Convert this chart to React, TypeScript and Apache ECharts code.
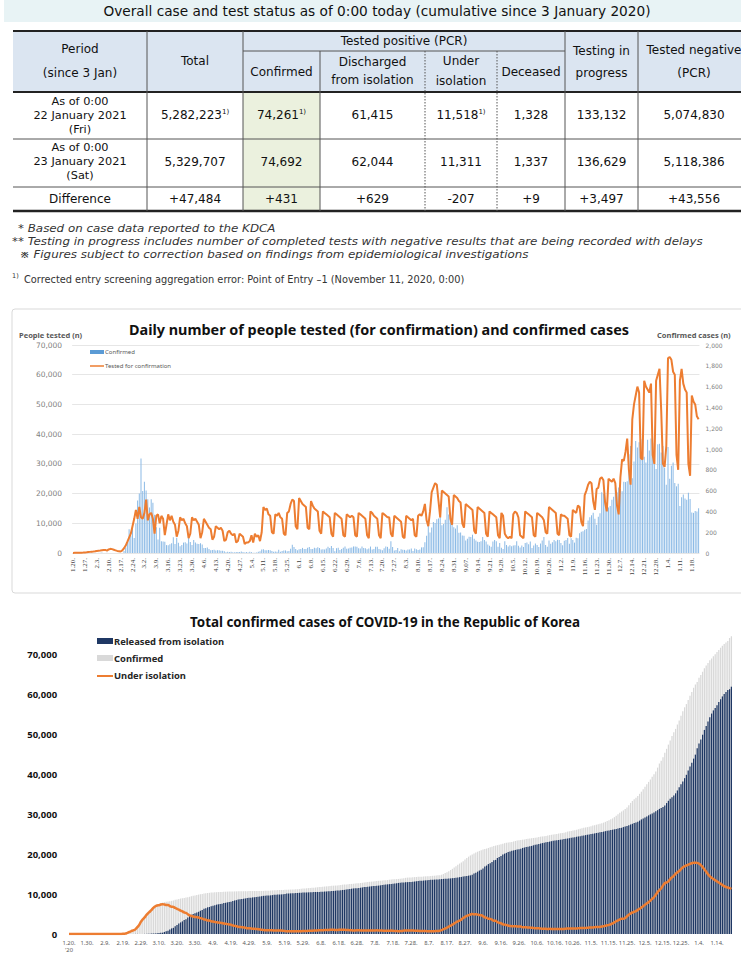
import React, { useEffect, useRef } from 'react';
import * as echarts from 'echarts';

// ---------------- Table data ----------------
const tableTitle = 'Overall case and test status as of 0:00 today (cumulative since 3 January 2020)';
const periodRow1 = ['As of 0:00', '22 January 2021', '(Fri)'];
const periodRow2 = ['As of 0:00', '23 January 2021', '(Sat)'];
const row1Values = ['5,282,223', '74,261', '61,415', '11,518', '1,328', '133,132', '5,074,830'];
const row1Notes = ['1)', '1)', '', '1)', '', '', ''];
const row2Values = ['5,329,707', '74,692', '62,044', '11,311', '1,337', '136,629', '5,118,386'];
const diffValues = ['+47,484', '+431', '+629', '-207', '+9', '+3,497', '+43,556'];
const footnotes = [
  '* Based on case data reported to the KDCA',
  '** Testing in progress includes number of completed tests with negative results that are being recorded with delays',
  ' \u203B Figures subject to correction based on findings from epidemiological investigations',
];
const correctionNote = 'Corrected entry screening aggregation error: Point of Entry \u20131 (November 11, 2020, 0:00)';

// ---------------- Chart 1: daily (20 Jan 2020 - 22 Jan 2021), one row per week Mon..Sun ----------------
const weeklyTicks = ['1.20.', '1.27.', '2.3.', '2.10.', '2.17.', '2.24.', '3.2.', '3.9.', '3.16.', '3.23.', '3.30.', '4.6.', '4.13.', '4.20.', '4.27.', '5.4.', '5.11.', '5.18.', '5.25.', '6.1.', '6.8.', '6.15.', '6.22.', '6.29.', '7.6.', '7.13.', '7.20.', '7.27.', '8.3.', '8.10.', '8.17.', '8.24.', '8.31.', '9.07.', '9.14.', '9.21.', '9.28.', '10.5.', '10.12.', '10.19.', '10.26.', '11.2.', '11.9.', '11.16.', '11.23.', '11.30.', '12.7.', '12.14.', '12.21.', '12.28.', '1.4.', '1.11.', '1.18.'];

const dailyTests = [
  30, 50, 60, 90, 110, 120, 140,
  180, 240, 310, 380, 460, 520, 600,
  700, 760, 820, 900, 980, 1050, 800,
  1200, 1400, 1300, 1100, 900, 700, 600,
  500, 900, 1600, 2500, 3800, 5200, 6500,
  9000, 11500, 14500, 11500, 15500, 12000, 11500,
  13500, 18000, 11000, 13000, 13500, 11500, 6500,
  12500, 13000, 10000, 12500, 11500, 6000, 9500,
  13000, 11000, 12500, 10500, 9500, 5500, 7500,
  12000, 11000, 11500, 10000, 9000, 5000, 6500,
  12000, 11000, 11500, 10500, 9500, 5000, 7000,
  11500, 10500, 9500, 8500, 8000, 4500, 5500,
  9000, 8500, 8000, 8500, 7500, 4000, 4500,
  7000, 7500, 6500, 6000, 6500, 3500, 4000,
  6500, 6000, 5500, 3000, 3500, 3500, 4000,
  6000, 3500, 6500, 5500, 6000, 4000, 7000,
  15500, 14500, 15000, 13000, 12500, 7000, 6500,
  13000, 12500, 13500, 12000, 11500, 6500, 6000,
  13500, 14000, 16500, 18000, 17500, 9000, 8000,
  18500, 17500, 16500, 16000, 15500, 8500, 8000,
  17500, 16000, 15000, 14500, 14000, 7500, 6500,
  14000, 13500, 13000, 12500, 12000, 6500, 5500,
  13500, 13000, 12500, 12000, 11500, 6000, 5500,
  13000, 12500, 12000, 12500, 12000, 6000, 5500,
  13500, 13000, 12500, 12000, 11500, 6000, 5000,
  14000, 13500, 12500, 12000, 11500, 6000, 5000,
  13500, 13000, 12500, 12000, 12000, 6500, 5500,
  12500, 12000, 11500, 11000, 10500, 5500, 5000,
  12500, 12000, 11500, 11000, 11500, 6000, 5500,
  12500, 13000, 12500, 14000, 16500, 11000, 9000,
  14000, 20500, 22000, 23500, 23000, 17500, 12000,
  21000, 20500, 20000, 19500, 19000, 11500, 9500,
  19500, 19000, 18500, 17500, 17000, 10000, 8500,
  16500, 16000, 15500, 15000, 14500, 7500, 6500,
  15500, 15000, 14500, 14000, 13500, 6500, 5500,
  14000, 13500, 13000, 12500, 12000, 6000, 5000,
  13500, 12500, 6500, 5500, 5000, 5500, 5000,
  13000, 14000, 13500, 12000, 6000, 5500, 5000,
  14000, 13500, 13000, 12500, 12000, 6000, 5500,
  13500, 13000, 12500, 12000, 11000, 7000, 6500,
  15500, 15000, 14500, 14000, 13500, 6500, 6000,
  13000, 12500, 12500, 12000, 11500, 6000, 5500,
  14500, 14000, 13500, 16000, 15500, 10500, 9000,
  19500, 21000, 23000, 24000, 23500, 17500, 14500,
  21500, 22000, 25000, 25500, 24500, 17000, 14000,
  25000, 24500, 24000, 25000, 23500, 16000, 13000,
  25500, 31500, 31000, 34000, 38500, 28000, 23000,
  45000, 50000, 53000, 56000, 54000, 32000, 31500,
  58000, 56000, 55000, 54000, 57000, 33000, 30000,
  58000, 60000, 62000, 48000, 30000, 29000, 36000,
  65500, 66000, 65000, 61000, 60000, 33000, 28000,
  58000, 62000, 57000, 55000, 54000, 30000, 26000,
  53000, 51000, 50000, 46000, 45000,
];

const dailyConfirmed = [
  1, 0, 0, 0, 1, 0, 1,
  1, 0, 0, 2, 5, 1, 3,
  0, 1, 3, 4, 1, 0, 3,
  0, 1, 0, 0, 0, 0, 1,
  1, 1, 20, 53, 100, 229, 169,
  231, 144, 284, 505, 571, 909, 595,
  686, 600, 516, 438, 518, 483, 367,
  248, 131, 242, 114, 110, 107, 76,
  74, 84, 93, 152, 87, 147, 98,
  64, 76, 100, 104, 91, 146, 105,
  78, 125, 101, 89, 86, 94, 81,
  47, 47, 53, 39, 27, 30, 32,
  25, 27, 27, 22, 22, 18, 8,
  13, 9, 11, 8, 6, 10, 10,
  10, 14, 9, 4, 9, 6, 13,
  8, 3, 2, 4, 12, 18, 34,
  35, 27, 26, 29, 27, 19, 13,
  15, 13, 32, 12, 20, 23, 25,
  16, 19, 40, 79, 58, 39, 27,
  35, 38, 49, 39, 39, 51, 57,
  38, 38, 50, 45, 56, 48, 34,
  36, 34, 43, 59, 49, 67, 48,
  17, 46, 51, 28, 39, 51, 62,
  42, 43, 50, 54, 63, 63, 61,
  46, 44, 63, 49, 45, 35, 44,
  62, 33, 39, 61, 60, 39, 34,
  26, 45, 63, 59, 41, 113, 58,
  25, 28, 48, 18, 36, 31, 30,
  23, 34, 33, 43, 20, 43, 36,
  28, 34, 54, 56, 103, 166, 279,
  197, 246, 297, 288, 324, 332, 397,
  266, 280, 320, 441, 371, 323, 299,
  248, 235, 267, 195, 198, 168, 167,
  119, 136, 156, 155, 176, 136, 121,
  109, 106, 113, 153, 126, 110, 82,
  70, 61, 110, 125, 114, 61, 95,
  50, 38, 113, 77, 63, 75, 64,
  73, 75, 114, 69, 54, 72, 58,
  97, 102, 84, 110, 47, 73, 91,
  76, 58, 91, 121, 155, 77, 61,
  119, 88, 103, 125, 114, 127, 124,
  97, 75, 118, 125, 145, 89, 143,
  126, 100, 146, 143, 191, 205, 208,
  223, 230, 313, 343, 363, 386, 330,
  271, 349, 382, 583, 569, 504, 450,
  438, 451, 511, 540, 629, 583, 631,
  615, 594, 686, 682, 689, 950, 1030,
  718, 880, 1078, 1014, 1064, 1097, 1097,
  926, 869, 1090, 985, 1100, 1060, 970,
  807, 1045, 1050, 967, 1029, 820, 657,
  1020, 715, 840, 869, 674, 641, 665,
  451, 537, 562, 524, 513, 580, 520,
  389, 386, 404, 400, 431,
];

// ---------------- Chart 2: cumulative ----------------
const tenDayTicks = ["1.20.\n'20", '1.30.', '2.9.', '2.19.', '2.29.', '3.10.', '3.20.', '3.30.', '4.9.', '4.19.', '4.29.', '5.9.', '5.19.', '5.29.', '6.8.', '6.18.', '6.28.', '7.8.', '7.18.', '7.28.', '8.7.', '8.17.', '8.27.', '9.6.', '9.16.', '9.26.', '10.6.', '10.16.', '10.26.', '11.5.', '11.15.', '11.25.', '12.5.', '12.15.', '12.25.', '1.4.', '1.14.'];

const cumConfirmed = [
  1, 1, 1, 1, 2, 2, 3,
  4, 4, 4, 6, 11, 12, 15,
  15, 16, 19, 23, 24, 24, 27,
  27, 28, 28, 28, 28, 28, 29,
  30, 31, 51, 104, 204, 433, 602,
  833, 977, 1261, 1766, 2337, 3150, 3736,
  4212, 4812, 5328, 5766, 6284, 6767, 7134,
  7382, 7513, 7755, 7869, 7979, 8086, 8162,
  8236, 8320, 8413, 8565, 8652, 8799, 8897,
  8961, 9037, 9137, 9241, 9332, 9478, 9583,
  9661, 9786, 9887, 9976, 10062, 10156, 10237,
  10284, 10331, 10384, 10423, 10450, 10480, 10512,
  10537, 10564, 10591, 10613, 10635, 10653, 10661,
  10674, 10683, 10694, 10702, 10708, 10718, 10728,
  10738, 10752, 10761, 10765, 10774, 10780, 10793,
  10801, 10804, 10806, 10810, 10822, 10840, 10874,
  10909, 10936, 10962, 10991, 11018, 11037, 11050,
  11065, 11078, 11110, 11122, 11142, 11165, 11190,
  11206, 11225, 11265, 11344, 11402, 11441, 11468,
  11503, 11541, 11590, 11629, 11668, 11719, 11776,
  11814, 11852, 11902, 11947, 12003, 12051, 12085,
  12121, 12155, 12198, 12257, 12306, 12373, 12421,
  12438, 12484, 12535, 12563, 12602, 12653, 12715,
  12757, 12800, 12850, 12904, 12967, 13030, 13091,
  13137, 13181, 13244, 13293, 13338, 13373, 13417,
  13479, 13512, 13551, 13612, 13672, 13711, 13745,
  13771, 13816, 13879, 13938, 13979, 14092, 14150,
  14175, 14203, 14251, 14269, 14305, 14336, 14366,
  14389, 14423, 14456, 14499, 14519, 14562, 14598,
  14626, 14660, 14714, 14770, 14873, 15039, 15318,
  15515, 15761, 16058, 16346, 16670, 17002, 17399,
  17665, 17945, 18265, 18706, 19077, 19400, 19699,
  19947, 20182, 20449, 20644, 20842, 21010, 21177,
  21296, 21432, 21588, 21743, 21919, 22055, 22176,
  22285, 22391, 22504, 22657, 22783, 22893, 22975,
  23045, 23106, 23216, 23341, 23455, 23516, 23611,
  23661, 23699, 23812, 23889, 23952, 24027, 24091,
  24164, 24239, 24353, 24422, 24476, 24548, 24606,
  24703, 24805, 24889, 24988, 25035, 25108, 25199,
  25275, 25333, 25424, 25543, 25698, 25775, 25836,
  25955, 26043, 26146, 26271, 26385, 26511, 26635,
  26732, 26807, 26925, 27050, 27195, 27284, 27427,
  27553, 27653, 27799, 27942, 28133, 28338, 28546,
  28769, 28998, 29311, 29654, 30017, 30403, 30733,
  31004, 31353, 31735, 32318, 32887, 33375, 33824,
  34201, 34652, 35163, 35703, 36332, 36915, 37546,
  38161, 38755, 39432, 40098, 40786, 41736, 42766,
  43484, 44364, 45442, 46453, 47515, 48570, 49665,
  50591, 51460, 52550, 53533, 54770, 55902, 56872,
  57680, 58725, 59773, 60740, 61769, 62593, 63244,
  64264, 64979, 65818, 66686, 67358, 68017, 68664,
  69114, 69651, 70212, 70728, 71241, 71820, 72340,
  72729, 73115, 73518, 74261, 74692,
];

const cumReleased = [
  0, 0, 0, 0, 0, 0, 0,
  0, 0, 0, 0, 0, 0, 0,
  0, 0, 1, 1, 1, 1, 3,
  3, 4, 7, 7, 7, 9, 10,
  10, 12, 16, 16, 16, 16, 18,
  18, 22, 22, 24, 24, 28, 30,
  30, 34, 41, 88, 108, 118, 130,
  166, 247, 288, 333, 510, 714, 834,
  1137, 1401, 1540, 1947, 2233, 2612, 2909,
  3166, 3507, 3730, 4144, 4528, 4811, 5033,
  5228, 5408, 5567, 5828, 6021, 6325, 6463,
  6694, 6776, 6973, 7117, 7243, 7368, 7447,
  7534, 7616, 7757, 7829, 7937, 8042, 8114,
  8277, 8411, 8501, 8635, 8717, 8764, 8854,
  8922, 9059, 9072, 9123, 9183, 9217, 9283,
  9332, 9419, 9484, 9568, 9610, 9632, 9670,
  9695, 9762, 9821, 9851, 9888, 9904, 9938,
  9970, 10066, 10135, 10162, 10194, 10213, 10226,
  10275, 10295, 10340, 10363, 10398, 10405, 10422,
  10446, 10467, 10499, 10506, 10531, 10552, 10564,
  10589, 10611, 10654, 10669, 10718, 10728, 10760,
  10804, 10856, 10900, 10930, 10970, 11048, 11075,
  11172, 11209, 11317, 11364, 11429, 11470, 11491,
  11537, 11613, 11684, 11772, 11811, 11848, 11914,
  11970, 12019, 12066, 12096, 12144, 12204, 12282,
  12348, 12396, 12461, 12506, 12537, 12610, 12698,
  12729, 12812, 12866, 12904, 12931, 12993, 13007,
  13043, 13063, 13117, 13166, 13233, 13280, 13352,
  13364, 13411, 13457, 13499, 13543, 13584, 13607,
  13642, 13666, 13702, 13745, 13786, 13817, 13834,
  13863, 13901, 13948, 14006, 14063, 14132, 14200,
  14265, 14315, 14406, 14461, 14538, 14650, 14710,
  14840, 15198, 15356, 15642, 15912, 16146, 16462,
  16912, 17166, 17545, 17759, 18084, 18484, 18590,
  19074, 19317, 19596, 19970, 20158, 20347, 20552,
  20722, 20855, 20970, 21090, 21216, 21292, 21390,
  21590, 21700, 21811, 21917, 22010, 22093, 22252,
  22385, 22484, 22579, 22690, 22812, 22890, 22992,
  23105, 23176, 23281, 23371, 23459, 23530, 23588,
  23664, 23722, 23812, 23880, 23960, 24040, 24130,
  24226, 24295, 24395, 24470, 24550, 24647, 24730,
  24810, 24910, 24970, 25075, 25160, 25235, 25340,
  25428, 25530, 25600, 25688, 25800, 25882, 25985,
  26070, 26170, 26260, 26325, 26466, 26572, 26650,
  26825, 26950, 27103, 27295, 27478, 27640, 27830,
  27981, 28180, 28440, 28750, 28990, 29240, 29500,
  29770, 30010, 30250, 30500, 30800, 31070, 31390,
  31580, 31870, 32250, 32850, 33420, 33930, 34330,
  34750, 35300, 36010, 36790, 37550, 38250, 39100,
  39940, 41000, 42000, 42950, 44000, 45000, 46600,
  47800, 48800, 50000, 51200, 52200, 53300, 54370,
  55300, 56100, 56700, 57400, 58210, 58900, 59600,
  60200, 60700, 61200, 61415, 62044,
];

const underIsolation = [
  1, 1, 1, 1, 2, 2, 3,
  4, 4, 4, 6, 11, 12, 15,
  15, 16, 18, 22, 23, 23, 24,
  24, 24, 21, 21, 21, 19, 19,
  20, 19, 35, 87, 187, 415, 582,
  808, 945, 1227, 1729, 2300, 3105, 3689,
  4159, 4750, 5255, 5643, 6134, 6605, 6954,
  7165, 7212, 7407, 7470, 7402, 7300, 7253,
  7024, 6838, 6789, 6527, 6325, 6085, 5884,
  5684, 5410, 5281, 4966, 4665, 4523, 4398,
  4275, 4216, 4155, 3979, 3867, 3654, 3591,
  3408, 3370, 3215, 3125, 3026, 2930, 2873,
  2808, 2750, 2627, 2576, 2484, 2385, 2324,
  2160, 2033, 1951, 1826, 1750, 1712, 1632,
  1572, 1447, 1442, 1392, 1340, 1310, 1255,
  1213, 1130, 1067, 988, 957, 953, 949,
  959, 918, 885, 882, 871, 874, 852,
  834, 751, 714, 699, 686, 690, 701,
  667, 666, 661, 717, 738, 769, 776,
  785, 802, 818, 850, 863, 893, 938,
  951, 967, 974, 1003, 1006, 1044, 1046,
  1037, 1018, 1016, 1045, 1055, 1043, 1064,
  984, 993, 936, 917, 891, 901, 942,
  938, 905, 883, 849, 873, 899, 892,
  882, 877, 892, 911, 907, 882, 848,
  844, 829, 803, 818, 847, 812, 758,
  753, 715, 724, 745, 868, 863, 874,
  866, 894, 858, 845, 802, 785, 735,
  758, 743, 740, 718, 717, 712, 717,
  716, 746, 766, 825, 950, 1197, 1377,
  1594, 1852, 2093, 2355, 2631, 2957, 3153,
  3371, 3635, 3985, 4299, 4541, 4721, 4903,
  5010, 4916, 4953, 4862, 4758, 4689, 4491,
  4176, 4063, 3844, 3796, 3610, 3330, 3330,
  2951, 2816, 2690, 2439, 2358, 2254, 2115,
  2004, 1951, 1950, 1939, 1905, 1908, 1862,
  1700, 1700, 1677, 1634, 1600, 1594, 1505,
  1445, 1460, 1430, 1368, 1316, 1300, 1293,
  1276, 1290, 1279, 1240, 1225, 1239, 1257,
  1235, 1267, 1282, 1340, 1387, 1369, 1364,
  1356, 1385, 1409, 1447, 1492, 1527, 1534,
  1527, 1548, 1611, 1646, 1650, 1711, 1734,
  1742, 1787, 1859, 1964, 2054, 2179, 2297,
  2441, 2652, 2904, 3201, 3444, 3640, 3832,
  3827, 4029, 4443, 4830, 5130, 5396, 5549,
  5748, 6057, 6333, 6650, 6980, 7355, 7690,
  7990, 8390, 8800, 9230, 9850, 10520, 11010,
  11490, 12150, 12730, 12940, 13220, 13780, 14190,
  14600, 15100, 15500, 15800, 16300, 16700, 17000,
  17200, 17400, 17600, 17750, 17850, 17900, 17850,
  17650, 17300, 16800, 16200, 15600, 15000, 14500,
  14100, 13800, 13500, 13200, 12900, 12600, 12300,
  12000, 11800, 11650, 11518, 11311,
];

// daily category keys (calendar days)
const dayKeys: string[] = dailyTests.map((_, i) => {
  const d = new Date(2020, 0, 20 + i);
  return `${d.getFullYear()}-${d.getMonth() + 1}-${d.getDate()}`;
});

// ---------------- helpers ----------------
const FONT = 'Noto Sans';
const TFONT = 'DejaVu Sans';
function txt(x: number, y: number, text: string, o: any = {}) {
  return {
    type: 'text', x, y, silent: true, z: 50,
    scaleX: o.scaleX ?? 1,
    style: {
      text,
      fill: o.fill ?? '#111',
      fontSize: o.size ?? 12,
      fontFamily: o.family ?? TFONT,
      fontWeight: o.weight ?? 'normal',
      fontStyle: o.italic ? 'italic' : 'normal',
      align: o.align ?? 'center',
      verticalAlign: 'middle',
      lineHeight: o.lh,
      rich: o.rich,
    },
  };
}
function hline(x1: number, x2: number, y: number, w: number, color = '#333', dash?: number[]) {
  return { type: 'line', silent: true, z: 40, shape: { x1, y1: y, x2, y2: y }, style: { stroke: color, lineWidth: w, lineDash: dash } };
}
function vline(x: number, y1: number, y2: number, dash?: number[]) {
  return { type: 'line', silent: true, z: 40, shape: { x1: x, y1, x2: x, y2 }, style: { stroke: '#555', lineWidth: 1, lineDash: dash } };
}

function buildGraphics() {
  const g: any[] = [];
  const colX = [13, 147, 243, 320, 425, 497, 565, 638, 750];
  const mid = (i: number) => (colX[i] + colX[i + 1]) / 2;
  // title bar
  g.push({ type: 'rect', silent: true, shape: { x: 4, y: 0, width: 737, height: 22 }, style: { fill: '#e8f3f5' } });
  g.push(txt(377, 11, tableTitle, { size: 13.7, fill: '#111' }));
  // backgrounds
  g.push({ type: 'rect', silent: true, shape: { x: 13, y: 31, width: 737, height: 61 }, style: { fill: '#dbe5f1' } });
  g.push({ type: 'rect', silent: true, shape: { x: 243, y: 92, width: 77, height: 119 }, style: { fill: '#ebf1de' } });
  // lines
  g.push(hline(13, 741, 31, 2, '#222'));
  g.push(hline(13, 741, 92, 2, '#222'));
  g.push(hline(13, 741, 139, 1, '#555'));
  g.push(hline(13, 741, 187, 1, '#555'));
  g.push(hline(13, 741, 211, 2.5, '#222'));
  g.push(hline(243, 565, 51, 1, '#555'));
  g.push(vline(147, 31, 211));
  g.push(vline(243, 31, 211));
  g.push(vline(320, 51, 211));
  g.push(vline(425, 51, 211, [1.5, 1.5]));
  g.push(vline(497, 51, 211, [1.5, 1.5]));
  g.push(vline(565, 31, 211));
  g.push(vline(638, 31, 211));
  // header
  g.push(txt(mid(0), 61, 'Period\n(since 3 Jan)', { lh: 24 }));
  g.push(txt(mid(1), 61, 'Total'));
  g.push(txt((colX[2] + colX[6]) / 2, 41, 'Tested positive (PCR)'));
  g.push(txt(mid(2), 72, 'Confirmed'));
  g.push(txt(mid(3), 71, 'Discharged\nfrom isolation', { lh: 18 }));
  g.push(txt(mid(4), 71, 'Under\nisolation', { lh: 20 }));
  g.push(txt(mid(5), 72, 'Deceased'));
  g.push(txt(mid(6), 62, 'Testing in\nprogress', { lh: 22 }));
  g.push(txt(mid(7), 61.5, 'Tested negative\n(PCR)', { lh: 23 }));
  // body
  g.push(txt(mid(0), 115, periodRow1.join('\n'), { lh: 14, size: 11.3 }));
  g.push(txt(mid(0), 161, periodRow2.join('\n'), { lh: 14, size: 11.3 }));
  g.push(txt(mid(0), 199, 'Difference'));
  const rich = {
    v: { fontSize: 12, fontFamily: TFONT, lineHeight: 14, fill: '#111' },
    s: { fontSize: 7, fontFamily: TFONT, lineHeight: 9, verticalAlign: 'top', fill: '#111' },
  };
  row1Values.forEach((v, i) => {
    const note = row1Notes[i];
    g.push(txt(mid(i + 1), 115, note ? `{v|${v}}{s|${note}}` : `{v|${v}}`, { rich }));
  });
  row2Values.forEach((v, i) => g.push(txt(mid(i + 1), 162, v)));
  diffValues.forEach((v, i) => g.push(txt(mid(i + 1), 199, v)));
  // footnotes
  g.push(txt(18, 228, footnotes[0], { size: 10.8, italic: true, align: 'left', fill: '#333', scaleX: 1.1 }));
  g.push(txt(12, 241, footnotes[1], { size: 10.8, italic: true, align: 'left', fill: '#333', scaleX: 1.1 }));
  g.push(txt(16, 254, footnotes[2], { size: 10.8, italic: true, align: 'left', fill: '#333', scaleX: 1.1 }));
  g.push(txt(12, 276, '1)', { size: 6.5, align: 'left', fill: '#333' }));
  g.push(txt(24, 279, correctionNote, { size: 9.8, align: 'left', fill: '#333' }));

  // chart 1 frame, titles, legend
  g.push({ type: 'rect', silent: true, z: 1, shape: { x: 12, y: 309, width: 740, height: 284, r: 3 }, style: { fill: 'none', stroke: '#d9d9d9', lineWidth: 1 } });
  g.push(txt(379, 329, 'Daily number of people tested (for confirmation) and confirmed cases', { size: 14.4, weight: 'bold', fill: '#111', family: FONT }));
  g.push(txt(19, 335, 'People tested (n)', { size: 7.5, weight: 'bold', fill: '#595959', align: 'left', family: FONT }));
  g.push(txt(657, 335, 'Confirmed cases (n)', { size: 7.5, weight: 'bold', fill: '#595959', align: 'left', family: FONT }));
  g.push({ type: 'rect', silent: true, z: 50, shape: { x: 90, y: 350, width: 14, height: 4 }, style: { fill: '#5b9bd5' } });
  g.push(txt(105, 352, 'Confirmed', { size: 6, fill: '#595959', align: 'left', family: FONT }));
  g.push({ type: 'line', silent: true, z: 50, shape: { x1: 90, y1: 366, x2: 104, y2: 366 }, style: { stroke: '#ed7d31', lineWidth: 1.5 } });
  g.push(txt(105, 366, 'Tested for confirmation', { size: 6, fill: '#595959', align: 'left', family: FONT }));

  // chart 2 title & legend
  g.push(txt(385, 622, 'Total confirmed cases of COVID-19 in the Republic of Korea', { size: 13.4, weight: 'bold', fill: '#111', family: FONT }));
  g.push({ type: 'rect', silent: true, z: 50, shape: { x: 97, y: 638, width: 16, height: 6 }, style: { fill: '#1f3864' } });
  g.push(txt(114, 641, 'Released from isolation', { size: 9.4, weight: 'bold', fill: '#262626', align: 'left', family: FONT }));
  g.push({ type: 'rect', silent: true, z: 50, shape: { x: 97, y: 655, width: 16, height: 6 }, style: { fill: '#d9d9d9' } });
  g.push(txt(114, 658, 'Confirmed', { size: 9.4, weight: 'bold', fill: '#262626', align: 'left', family: FONT }));
  g.push({ type: 'line', silent: true, z: 50, shape: { x1: 97, y1: 676, x2: 113, y2: 676 }, style: { stroke: '#ed7d31', lineWidth: 2 } });
  g.push(txt(114, 675, 'Under isolation', { size: 9.4, weight: 'bold', fill: '#262626', align: 'left', family: FONT }));
  return g;
}

const fmt = (v: number) => v.toLocaleString('en-US');

function buildOption() {
  return {
    animation: false,
    backgroundColor: '#ffffff',
    textStyle: { fontFamily: FONT },
    graphic: { elements: buildGraphics() },
    grid: [
      { left: 72.15, width: 627.3, top: 345, height: 208, outerBoundsMode: 'none' },
      { left: 68.1, width: 664.2, top: 635.05, height: 298.95, outerBoundsMode: 'none' },
    ],
    xAxis: [
      {
        type: 'category', gridIndex: 0, data: dayKeys, boundaryGap: true,
        axisLine: { show: false }, axisTick: { show: false },
        axisLabel: {
          interval: 6, rotate: 90, margin: 5, fontSize: 7, fontFamily: 'Liberation Serif', color: '#404040',
          formatter: (_v: string, i: number) => (i % 7 === 0 ? weeklyTicks[i / 7] ?? '' : ''),
        },
      },
      {
        type: 'category', gridIndex: 1, data: dayKeys, boundaryGap: true,
        axisLine: { show: false }, axisTick: { show: false },
        axisLabel: {
          interval: 9, margin: 5, fontSize: 5.8, lineHeight: 7.5, color: '#595959',
          formatter: (_v: string, i: number) => (i % 10 === 0 ? tenDayTicks[i / 10] ?? '' : ''),
        },
      },
    ],
    yAxis: [
      {
        type: 'value', gridIndex: 0, min: 0, max: 70000, interval: 10000, position: 'left',
        axisLine: { show: false }, axisTick: { show: false },
        splitLine: { show: true, lineStyle: { color: '#e6e6e6', width: 1 } },
        axisLabel: { margin: 10, fontSize: 7.5, fontFamily: 'DejaVu Sans', color: '#7f7f7f', formatter: fmt },
      },
      {
        type: 'value', gridIndex: 0, min: 0, max: 2000, interval: 200, position: 'right',
        axisLine: { show: false }, axisTick: { show: false }, splitLine: { show: false },
        axisLabel: { margin: 6, fontSize: 6, fontFamily: 'DejaVu Sans', color: '#7f7f7f', formatter: fmt },
      },
      {
        type: 'value', gridIndex: 1, min: 0, max: 75000, interval: 10000,
        axisLine: { show: false }, axisTick: { show: false }, splitLine: { show: false },
        axisLabel: {
          margin: 11, fontSize: 9.5, fontWeight: 'bold', color: '#111', showMaxLabel: false,
          formatter: (v: number) => (v % 10000 === 0 ? fmt(v) : ''),
        },
      },
    ],
    series: [
      {
        name: 'Confirmed', type: 'bar', xAxisIndex: 0, yAxisIndex: 1, data: dailyConfirmed,
        barWidth: '60%', itemStyle: { color: '#8dbbe6' }, z: 2,
      },
      {
        name: 'Tested for confirmation', type: 'line', xAxisIndex: 0, yAxisIndex: 0, data: dailyTests,
        symbol: 'none', lineStyle: { color: '#ed7d31', width: 2 }, itemStyle: { color: '#ed7d31' }, z: 3,
      },
      {
        name: 'Confirmed (cumulative)', type: 'bar', xAxisIndex: 1, yAxisIndex: 2, data: cumConfirmed,
        barWidth: '70%', barGap: '-100%', itemStyle: { color: '#d9d9d9' }, z: 2,
      },
      {
        name: 'Released from isolation', type: 'bar', xAxisIndex: 1, yAxisIndex: 2, data: cumReleased,
        barWidth: '70%', barGap: '-100%', itemStyle: { color: '#1f3864' }, z: 2,
      },
      {
        name: 'Under isolation', type: 'line', xAxisIndex: 1, yAxisIndex: 2, data: underIsolation,
        smooth: true, symbol: 'none', lineStyle: { color: '#ed7d31', width: 2.5 }, itemStyle: { color: '#ed7d31' }, z: 3,
      },
    ],
  };
}

export default function App() {
  const ref = useRef<HTMLDivElement>(null);
  useEffect(() => {
    if (!ref.current) return;
    const chart = echarts.init(ref.current, null, { renderer: 'svg', width: 741, height: 966 });
    chart.setOption(buildOption() as any);
    return () => chart.dispose();
  }, []);
  return (
    <div
      ref={ref}
      style={{ position: 'absolute', left: 0, top: 0, width: 741, height: 966, background: '#ffffff' }}
    />
  );
}
